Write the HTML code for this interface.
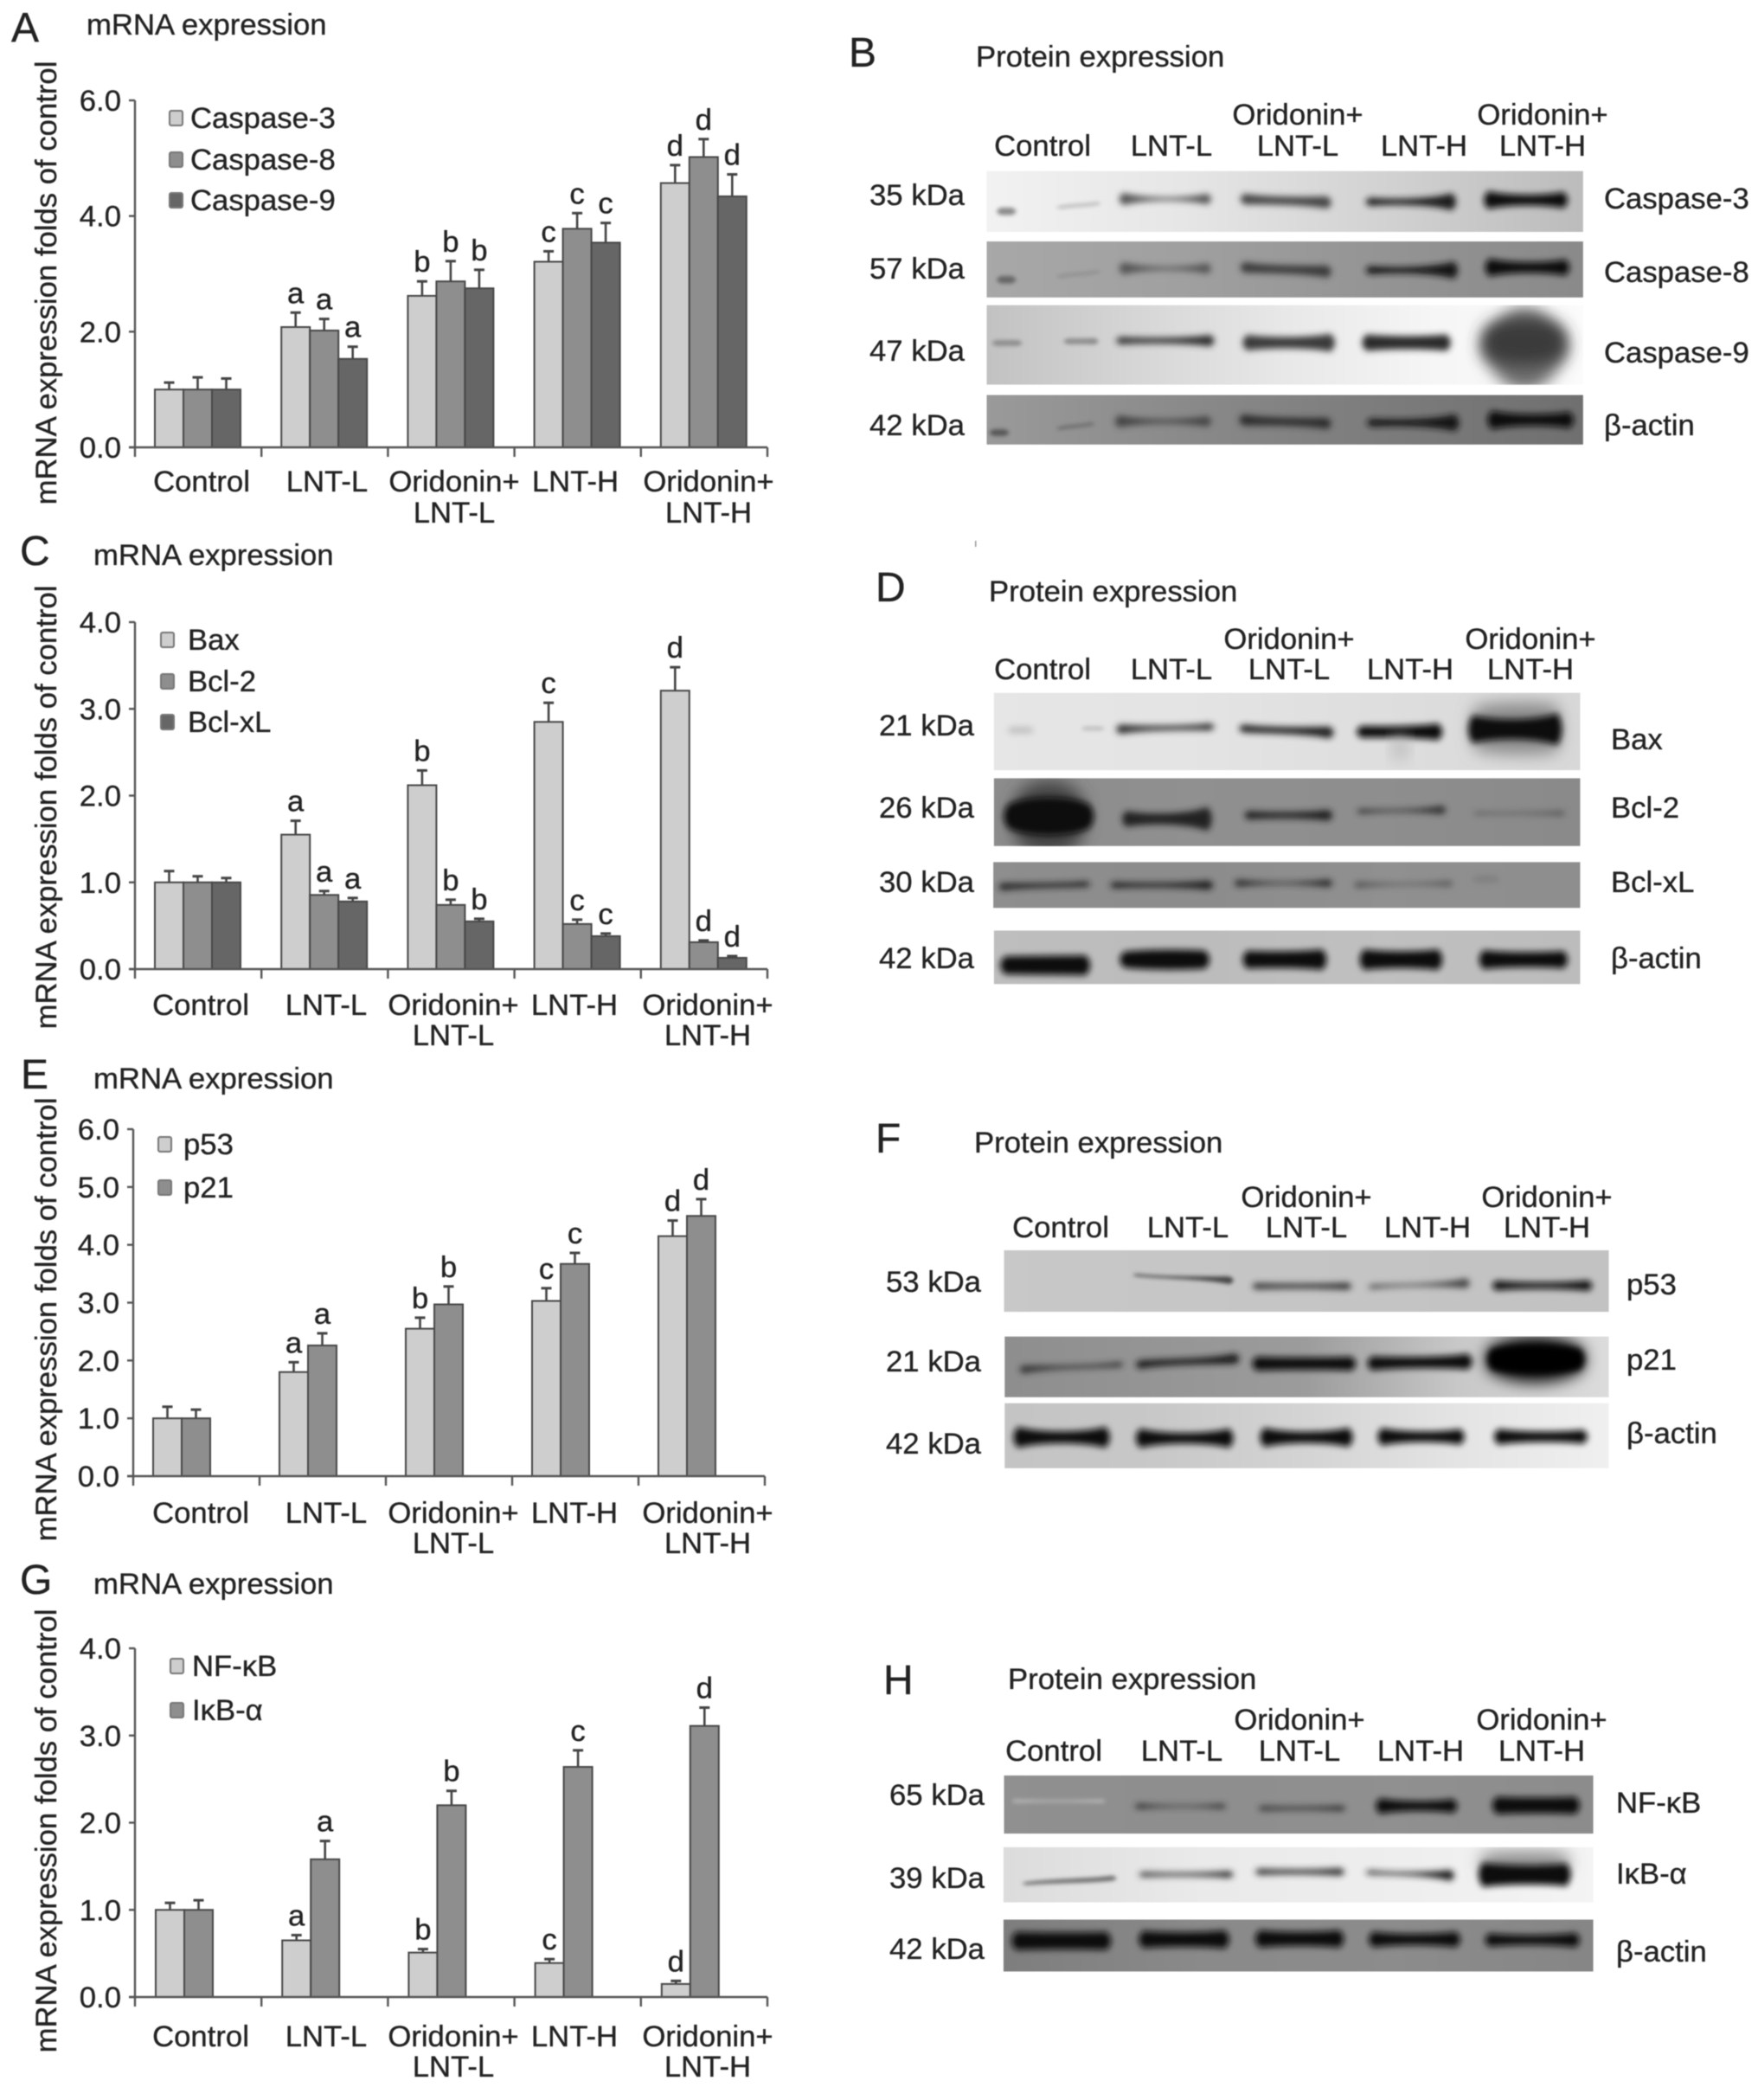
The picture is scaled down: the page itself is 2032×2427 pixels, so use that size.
<!DOCTYPE html>
<html lang="en">
<head>
<meta charset="utf-8">
<title>mRNA and protein expression</title>
<style>
html,body{margin:0;padding:0;background:#fff}
svg{display:block;filter:blur(.6px)}
text{font-family:"Liberation Sans",sans-serif;font-size:34.7px;fill:#222;stroke:#222;stroke-width:.35px}
.letter{font-size:48px}
</style>
</head>
<body>
<svg id="fig" xmlns="http://www.w3.org/2000/svg" width="2032" height="2427" viewBox="0 0 2032 2427">
<defs>
<filter id="b1" x="-30%" y="-400%" width="160%" height="900%"><feGaussianBlur stdDeviation="2.4"/></filter>
<filter id="b2" x="-30%" y="-400%" width="160%" height="900%"><feGaussianBlur stdDeviation="3.8"/></filter>
<filter id="b3" x="-40%" y="-100%" width="180%" height="300%"><feGaussianBlur stdDeviation="9"/></filter>
</defs>
<rect width="2032" height="2427" fill="#fff"/>
<g id="charts"></g>
<g id="blots"></g>
<g>
<text class="letter" x="981" y="77">B</text>
<text x="1128" y="77">Protein expression</text>
<g text-anchor="middle">
<text x="1205" y="180">Control</text>
<text x="1354" y="180">LNT-L</text>
<text x="1500" y="144">Oridonin+</text>
<text x="1500" y="180">LNT-L</text>
<text x="1646" y="180">LNT-H</text>
<text x="1783" y="144">Oridonin+</text>
<text x="1783" y="180">LNT-H</text>
</g>
<text x="1005" y="237">35 kDa</text>
<text x="1005" y="322">57 kDa</text>
<text x="1005" y="417">47 kDa</text>
<text x="1005" y="503">42 kDa</text>
<text x="1854" y="241">Caspase-3</text>
<text x="1854" y="326">Caspase-8</text>
<text x="1854" y="419">Caspase-9</text>
<text x="1854" y="503">β-actin</text>
</g>
<g>
<text class="letter" x="1012" y="695">D</text>
<text x="1143" y="695">Protein expression</text>
<g text-anchor="middle">
<text x="1205" y="785">Control</text>
<text x="1354" y="785">LNT-L</text>
<text x="1490" y="750">Oridonin+</text>
<text x="1490" y="785">LNT-L</text>
<text x="1630" y="785">LNT-H</text>
<text x="1769" y="750">Oridonin+</text>
<text x="1769" y="785">LNT-H</text>
</g>
<text x="1016" y="850">21 kDa</text>
<text x="1016" y="945">26 kDa</text>
<text x="1016" y="1031">30 kDa</text>
<text x="1016" y="1119">42 kDa</text>
<text x="1862" y="866">Bax</text>
<text x="1862" y="945">Bcl-2</text>
<text x="1862" y="1031">Bcl-xL</text>
<text x="1862" y="1119">β-actin</text>
</g>
<g>
<text class="letter" x="1012" y="1332">F</text>
<text x="1126" y="1332">Protein expression</text>
<g text-anchor="middle">
<text x="1226" y="1430">Control</text>
<text x="1373" y="1430">LNT-L</text>
<text x="1510" y="1395">Oridonin+</text>
<text x="1510" y="1430">LNT-L</text>
<text x="1650" y="1430">LNT-H</text>
<text x="1788" y="1395">Oridonin+</text>
<text x="1788" y="1430">LNT-H</text>
</g>
<text x="1024" y="1493">53 kDa</text>
<text x="1024" y="1585">21 kDa</text>
<text x="1024" y="1680">42 kDa</text>
<text x="1880" y="1496">p53</text>
<text x="1880" y="1583">p21</text>
<text x="1880" y="1668">β-actin</text>
</g>
<g>
<text class="letter" x="1021" y="1958">H</text>
<text x="1165" y="1952">Protein expression</text>
<g text-anchor="middle">
<text x="1218" y="2035">Control</text>
<text x="1366" y="2035">LNT-L</text>
<text x="1502" y="1999">Oridonin+</text>
<text x="1502" y="2035">LNT-L</text>
<text x="1642" y="2035">LNT-H</text>
<text x="1782" y="1999">Oridonin+</text>
<text x="1782" y="2035">LNT-H</text>
</g>
<text x="1028" y="2086">65 kDa</text>
<text x="1028" y="2182">39 kDa</text>
<text x="1028" y="2264">42 kDa</text>
<text x="1868" y="2095">NF-κB</text>
<text x="1868" y="2177">IκB-α</text>
<text x="1868" y="2267">β-actin</text>
</g>
</svg>
<script>
// ---------- chart data ----------
const categoryLabels = [["Control"], ["LNT-L"], ["Oridonin+", "LNT-L"], ["LNT-H"], ["Oridonin+", "LNT-H"]];
const significanceLetters = ["", "a", "b", "c", "d"];

const ticksA = ["0.0", "2.0", "4.0", "6.0"];
const namesA = ["Caspase-3", "Caspase-8", "Caspase-9"];
const caspase3Values = [1.0, 2.08, 2.62, 3.21, 4.57];
const caspase3Errors = [0.12, 0.25, 0.25, 0.18, 0.31];
const caspase8Values = [1.0, 2.02, 2.87, 3.78, 5.02];
const caspase8Errors = [0.21, 0.2, 0.35, 0.27, 0.31];
const caspase9Values = [1.0, 1.53, 2.75, 3.54, 4.34];
const caspase9Errors = [0.19, 0.21, 0.32, 0.34, 0.38];

const ticksC = ["0.0", "1.0", "2.0", "3.0", "4.0"];
const namesC = ["Bax", "Bcl-2", "Bcl-xL"];
const baxValues = [1.0, 1.55, 2.12, 2.85, 3.21];
const baxErrors = [0.13, 0.16, 0.17, 0.22, 0.27];
const bcl2Values = [1.0, 0.855, 0.74, 0.52, 0.31];
const bcl2Errors = [0.07, 0.045, 0.06, 0.05, 0.02];
const bclxlValues = [1.0, 0.78, 0.55, 0.38, 0.13];
const bclxlErrors = [0.05, 0.04, 0.03, 0.03, 0.02];

const ticksE = ["0.0", "1.0", "2.0", "3.0", "4.0", "5.0", "6.0"];
const namesE = ["p53", "p21"];
const p53Values = [1.0, 1.8, 2.55, 3.03, 4.15];
const p53Errors = [0.2, 0.17, 0.19, 0.22, 0.27];
const p21Values = [1.0, 2.26, 2.97, 3.67, 4.5];
const p21Errors = [0.15, 0.21, 0.31, 0.19, 0.29];

const ticksG = ["0.0", "1.0", "2.0", "3.0", "4.0"];
const namesG = ["NF-κB", "IκB-α"];
const nfkbValues = [1.0, 0.65, 0.51, 0.39, 0.15];
const nfkbErrors = [0.08, 0.06, 0.04, 0.045, 0.035];
const ikbValues = [1.0, 1.58, 2.2, 2.64, 3.11];
const ikbErrors = [0.11, 0.21, 0.165, 0.19, 0.21];

// ---------- helpers ----------
const NS = "http://www.w3.org/2000/svg";
function mk(tag, parent, attrs) {
  const el = document.createElementNS(NS, tag);
  for (const k in attrs) el.setAttribute(k, attrs[k]);
  parent.appendChild(el);
  return el;
}
const FILLS = ["#cecece", "#8e8e8e", "#666666"];
const EDGE = "#474747";

function drawChart(cfg) {
  const root = document.getElementById("charts");
  const g = mk("g", root, {});
  
  

  const yScale = v => cfg.y0 - (v - cfg.min) / (cfg.max - cfg.min) * (cfg.y0 - cfg.yTop);
  const band = (cfg.xEnd - cfg.x0) / categoryLabels.length;
  const xScale = (c, s) => cfg.x0 + c * band + cfg.barPad + s * cfg.barW;

  // header
  const letter = mk("text", g, {x: cfg.letterX, y: cfg.headY + (cfg.letterDy || 0), class: "letter"});
  letter.textContent = cfg.letter;
  
  
  const title = mk("text", g, {x: cfg.titleX, y: cfg.headY});
  title.textContent = "mRNA expression";
  
  

  // y-axis title
  const yt = mk("text", g, {x: 0, y: 0, "text-anchor": "middle", transform: "translate(65," + cfg.yLabelY + ") rotate(-90)"});
  yt.textContent = "mRNA expression folds of control";
  
  

  // bars, error bars, letters
  cfg.series.forEach((s, si) => {
    s.values.forEach((v, c) => {
      const x = xScale(c, si), yv = yScale(v), top = yScale(v + s.errors[c]), cx = x + cfg.barW / 2;
      const stem = mk("line", g, {x1: cx, x2: cx, y1: yv, y2: top, stroke: "#444", "stroke-width": 2.6});
      
      
      const cap = mk("line", g, {x1: cx - 6, x2: cx + 6, y1: top, y2: top, stroke: "#444", "stroke-width": 3});
      
      
      const r = mk("rect", g, {x: x, y: yv, width: cfg.barW, height: cfg.y0 - yv, fill: FILLS[si], stroke: EDGE, "stroke-width": 2});
      
      
      if (significanceLetters[c]) {
        const t = mk("text", g, {x: cx, y: top - 11, "text-anchor": "middle"});
        t.textContent = significanceLetters[c];
        
        
      }
    });
  });

  // axes
  const ya = mk("line", g, {x1: cfg.x0, x2: cfg.x0, y1: cfg.yTop, y2: cfg.y0 + 11, stroke: "#555", "stroke-width": 2.4});
  
  
  const xa = mk("line", g, {x1: cfg.x0 - 7, x2: cfg.xEnd, y1: cfg.y0, y2: cfg.y0, stroke: "#555", "stroke-width": 2.4});
  
  

  cfg.ticks.forEach(label => {
    const y = yScale(parseFloat(label));
    const tk = mk("line", g, {x1: cfg.x0 - 7, x2: cfg.x0, y1: y, y2: y, stroke: "#555", "stroke-width": 2.4});
    
    
    const tx = mk("text", g, {x: cfg.x0 - 16, y: y + 12, "text-anchor": "end"});
    tx.textContent = label;
    
    
  });

  categoryLabels.forEach((lines, c) => {
    const tickX = cfg.x0 + (c + 1) * band;
    const tk = mk("line", g, {x1: tickX, x2: tickX, y1: cfg.y0, y2: cfg.y0 + 11, stroke: "#555", "stroke-width": 2.4});
    
    
    const center = cfg.labelCenters[c];
    lines.forEach((line, i) => {
      const t = mk("text", g, {x: center, y: cfg.xLabelY + i * cfg.xLabelGap, "text-anchor": "middle"});
      t.textContent = line;
      
      
    });
  });

  // legend
  cfg.names.forEach((name, i) => {
    const y = cfg.legendY[i];
    const sw = mk("rect", g, {x: cfg.legendX, y: y - 8, width: 15, height: 17, rx: 2, fill: FILLS[i], stroke: "#777", "stroke-width": 2});
    
    
    const t = mk("text", g, {x: cfg.legendTextX, y: y + 12});
    t.textContent = name;
    
    
  });
}

drawChart({id: "caspase", letter: "A", letterX: 13, titleX: 100, headY: 40, letterDy: 8, x0: 156, xEnd: 887, y0: 517, yTop: 116, min: 0, max: 6,
  barPad: 23, barW: 33, ticks: ticksA, yLabelY: 327, names: namesA, legendX: 196, legendTextX: 220, legendY: [136, 184, 231],
  labelCenters: [233, 378, 525, 665, 819], xLabelY: 568, xLabelGap: 36,
  series: [{values: caspase3Values, errors: caspase3Errors}, {values: caspase8Values, errors: caspase8Errors}, {values: caspase9Values, errors: caspase9Errors}]});

drawChart({id: "apoptosis", letter: "C", letterX: 23, titleX: 108, headY: 653, x0: 156, xEnd: 887, y0: 1120, yTop: 719, min: 0, max: 4,
  barPad: 23, barW: 33, ticks: ticksC, yLabelY: 933, names: namesC, legendX: 186, legendTextX: 217, legendY: [739, 787, 834],
  labelCenters: [232, 377, 524, 664, 818], xLabelY: 1173, xLabelGap: 35,
  series: [{values: baxValues, errors: baxErrors}, {values: bcl2Values, errors: bcl2Errors}, {values: bclxlValues, errors: bclxlErrors}]});

drawChart({id: "p53", letter: "E", letterX: 24, titleX: 108, headY: 1258, x0: 154, xEnd: 884, y0: 1706, yTop: 1305, min: 0, max: 6,
  barPad: 23, barW: 33, ticks: ticksE, yLabelY: 1525, names: namesE, legendX: 183, legendTextX: 212, legendY: [1322, 1372],
  labelCenters: [232, 377, 524, 664, 818], xLabelY: 1760, xLabelGap: 35,
  series: [{values: p53Values, errors: p53Errors}, {values: p21Values, errors: p21Errors}]});

drawChart({id: "nfkb", letter: "G", letterX: 23, titleX: 108, headY: 1842, x0: 156, xEnd: 887, y0: 2308, yTop: 1905, min: 0, max: 4,
  barPad: 24, barW: 33, ticks: ticksG, yLabelY: 2116, names: namesG, legendX: 197, legendTextX: 222, legendY: [1925, 1976],
  labelCenters: [232, 377, 524, 664, 818], xLabelY: 2365, xLabelGap: 35,
  series: [{values: nfkbValues, errors: nfkbErrors}, {values: ikbValues, errors: ikbErrors}]});

// ---------- western blots (coordinates in a per-panel sketch space) ----------
let gradCounter = 0;
const BAND_SCALE = 1.2;
function blotPanel(name, ox, oy, kx, ky) {
  const panel = mk("g", document.getElementById("blots"), {});
  
  
  const defs = document.querySelector("#fig defs");
  return {
    row(rowName, x1, y1, x2, y2, stops) {
      const id = "grad" + (++gradCounter);
      const lg = mk("linearGradient", defs, {id: id, x1: 0, y1: 0, x2: 1, y2: 0});
      stops.forEach((c, i) => mk("stop", lg, {offset: i / Math.max(stops.length - 1, 1), "stop-color": c}));
      const X = ox + x1 / kx, Y = oy + y1 / ky, W = (x2 - x1) / kx, H = (y2 - y1) / ky;
      const cp = mk("clipPath", defs, {id: "clip" + id});
      mk("rect", cp, {x: X, y: Y, width: W, height: H});
      const g = mk("g", panel, {"clip-path": "url(#clip" + id + ")"});
      
      
      mk("rect", g, {x: X, y: Y, width: W, height: H, fill: "url(#" + id + ")"});
      return {
        band(x1, x2, y, tL, tM, tR, color, blur, yR) {
          const XL = ox + x1 / kx, XR = ox + x2 / kx, w = XR - XL;
          const YL = oy + y / ky, YRR = oy + (yR === undefined ? y : yR) / ky, YM = (YL + YRR) / 2;
          const hl = BAND_SCALE * tL / ky / 2, hm = BAND_SCALE * tM / ky / 2, hr = BAND_SCALE * tR / ky / 2;
          const topC = (8 * (YM - hm) - (YL - hl) - (YRR - hr)) / 6;
          const botC = (8 * (YM + hm) - (YL + hl) - (YRR + hr)) / 6;
          const d = "M" + XL + " " + (YL - hl) +
            "C" + (XL + w * 0.25) + " " + topC + " " + (XR - w * 0.25) + " " + topC + " " + XR + " " + (YRR - hr) +
            "Q" + (XR + 10) + " " + YRR + " " + XR + " " + (YRR + hr) +
            "C" + (XR - w * 0.25) + " " + botC + " " + (XL + w * 0.25) + " " + botC + " " + XL + " " + (YL + hl) +
            "Q" + (XL - 10) + " " + YL + " " + XL + " " + (YL - hl) + "Z";
          const p = mk("path", g, {d: d, fill: color, filter: "url(#" + (blur || "b2") + ")"});
          
          
          return p;
        }
      };
    }
  };
}

// Panel B
const pB = blotPanel("blot-b", 950, 0, 1.449, 2.53);
let r = pB.row("blot-caspase-3", 276, 500, 1275, 678, ["#f2f2f2", "#e6e6e6", "#d2d2d2", "#bcbcbc"]);
r.band(300, 318, 618, 18, 18, 18, "#8a8a8a", "b1");
r.band(400, 460, 606, 8, 8, 8, "#bbb", "b1", 595);
r.band(505, 645, 582, 30, 8, 26, "#555");
r.band(708, 846, 582, 26, 20, 30, "#444", "b2", 592);
r.band(918, 1055, 590, 20, 16, 42, "#1c1c1c");
r.band(1116, 1242, 585, 44, 26, 40, "#0c0c0c");
r = pB.row("blot-caspase-8", 276, 706, 1275, 870, ["#a8a8a8", "#a0a0a0", "#949494", "#8a8a8a"]);
r.band(300, 318, 818, 18, 18, 18, "#666", "b1");
r.band(400, 460, 808, 8, 8, 8, "#8f8f8f", "b1", 795);
r.band(505, 645, 785, 30, 8, 26, "#555");
r.band(708, 846, 782, 26, 20, 30, "#3a3a3a", "b2", 794);
r.band(918, 1058, 790, 20, 16, 42, "#181818");
r.band(1118, 1245, 782, 44, 26, 40, "#0a0a0a");
r = pB.row("blot-caspase-9", 276, 892, 1275, 1125, ["#c2c2c2", "#d6d6d6", "#e8e8e8", "#f6f6f6", "#fbfbfb"]);
r.band(292, 328, 1003, 14, 14, 14, "#8c8c8c", "b1");
r.band(412, 456, 998, 14, 14, 16, "#8c8c8c", "b1");
r.band(500, 650, 996, 18, 14, 28, "#2e2e2e");
r.band(712, 852, 1002, 38, 28, 44, "#3a3a3a");
r.band(912, 1046, 1002, 40, 32, 40, "#2c2c2c");
r.band(1115, 1240, 1020, 60, 200, 60, "#6a6a6a", "b3");
r.band(1112, 1240, 1000, 70, 110, 70, "#3a3a3a", "b3");
r = pB.row("blot-beta-actin", 276, 1155, 1275, 1300, ["#9a9a9a", "#8a8a8a", "#7c7c7c", "#707070"]);
r.band(288, 306, 1265, 16, 16, 16, "#555", "b1");
r.band(400, 450, 1252, 8, 8, 8, "#6a6a6a", "b1", 1240);
r.band(498, 645, 1232, 30, 10, 26, "#444");
r.band(706, 846, 1228, 28, 20, 28, "#2e2e2e", "b2", 1238);
r.band(920, 1060, 1236, 20, 18, 42, "#181818");
r.band(1122, 1252, 1228, 46, 28, 40, "#0a0a0a");
const tinyMark = mk("rect", document.getElementById("blots"), {x: 1127, y: 625, width: 1.5, height: 7, fill: "#999"});



// Panel D
const pD = blotPanel("blot-d", 950, 620, 1.449, 2.613);
r = pD.row("blot-bax", 288, 472, 1270, 706, ["#e6e6e6", "#e4e4e4", "#dedede", "#d8d8d8"]);
r.band(318, 348, 585, 16, 16, 16, "#bdbdbd");
r.band(442, 466, 580, 10, 10, 10, "#bdbdbd", "b1");
r.band(500, 650, 582, 24, 12, 18, "#333", "b2", 575);
r.band(706, 850, 580, 20, 18, 30, "#222", "b2", 592);
r.band(903, 1032, 590, 30, 30, 42, "#111");
r.band(962, 975, 640, 60, 60, 60, "#bbb", "b3");
r.band(1095, 1230, 580, 110, 130, 120, "#8a8a8a", "b3");
r.band(1090, 1232, 582, 70, 50, 80, "#0a0a0a");
r = pD.row("blot-bcl-2", 288, 730, 1270, 935, ["#8c8c8c", "#909090", "#8e8e8e", "#8a8a8a"]);
r.band(325, 435, 850, 110, 190, 110, "#444", "b3");
r.band(312, 448, 845, 60, 95, 60, "#0c0c0c", "b2");
r.band(510, 646, 853, 40, 28, 60, "#222");
r.band(715, 848, 842, 22, 16, 28, "#222");
r.band(903, 1038, 830, 12, 7, 22, "#333", "b2", 826);
r.band(1098, 1238, 836, 8, 6, 14, "#5a5a5a");
r = pD.row("blot-bcl-xl", 287, 983, 1270, 1122, ["#8e8e8e", "#8c8c8c", "#909090", "#8e8e8e"]);
r.band(303, 442, 1058, 18, 12, 14, "#222", "b2", 1050);
r.band(490, 648, 1053, 16, 12, 24, "#222");
r.band(698, 848, 1047, 18, 6, 20, "#2a2a2a");
r.band(898, 1050, 1052, 18, 6, 15, "#5a5a5a", "b2", 1048);
r.band(1097, 1128, 1035, 14, 14, 14, "#7c7c7c");
r = pD.row("blot-beta-actin", 288, 1190, 1270, 1352, ["#bebebe", "#bcbcbc", "#c0c0c0", "#bcbcbc"]);
r.band(306, 442, 1295, 45, 48, 50, "#0a0a0a");
r.band(506, 642, 1278, 40, 50, 45, "#111");
r.band(712, 838, 1278, 45, 42, 52, "#0e0e0e");
r.band(908, 1032, 1278, 52, 42, 52, "#111");
r.band(1108, 1242, 1278, 48, 38, 44, "#111");

// Panel F
const pF = blotPanel("blot-f", 950, 1277, 1.449, 2.96);
r = pF.row("blot-p53", 305, 497, 1318, 708, ["#c8c8c8", "#c6c6c6", "#c4c4c4", "#c2c2c2"]);
r.band(528, 682, 582, 6, 8, 22, "#444", "b1", 600);
r.band(728, 880, 620, 18, 14, 20, "#333");
r.band(922, 1078, 622, 12, 8, 28, "#444", "b2", 610);
r.band(1130, 1283, 618, 28, 18, 30, "#111");
r = pF.row("blot-p21", 306, 792, 1318, 1000, ["#8e8e8e", "#959595", "#9c9c9c", "#c8c8c8", "#dcdcdc"]);
r.band(338, 498, 905, 22, 10, 14, "#333", "b2", 888);
r.band(533, 692, 888, 24, 18, 30, "#1a1a1a", "b2", 868);
r.band(728, 887, 885, 40, 35, 40, "#111");
r.band(921, 1082, 884, 40, 32, 45, "#0a0a0a", "b2", 878);
r.band(1120, 1270, 870, 70, 130, 70, "#000", "b3");
r.band(1122, 1270, 870, 60, 75, 60, "#000");
r = pF.row("blot-beta-actin", 306, 1020, 1318, 1243, ["#c4c4c4", "#c8c8c8", "#d4d4d4", "#e4e4e4", "#f0f0f0"]);
r.band(328, 475, 1137, 60, 34, 60, "#111");
r.band(533, 682, 1140, 55, 30, 55, "#111");
r.band(741, 882, 1137, 55, 32, 55, "#111");
r.band(938, 1069, 1135, 50, 30, 45, "#111");
r.band(1133, 1275, 1135, 45, 30, 40, "#111");

// Panel H
const pH = blotPanel("blot-h", 950, 1898, 1.449, 2.97);
r = pH.row("blot-nf-kb", 305, 457, 1292, 657, ["#909090", "#8e8e8e", "#909090", "#8c8c8c"]);
r.band(325, 468, 545, 10, 6, 10, "#b8b8b8", "b1");
r.band(531, 670, 563, 16, 6, 14, "#333");
r.band(738, 870, 570, 14, 10, 16, "#333");
r.band(935, 1057, 562, 45, 28, 40, "#0a0a0a");
r.band(1130, 1262, 560, 50, 45, 50, "#0a0a0a");
r = pH.row("blot-ikb-a", 304, 703, 1292, 893, ["#dcdcdc", "#eaeaea", "#eeeeee", "#f4f4f4"]);
r.band(343, 486, 828, 8, 12, 14, "#666", "b1", 810);
r.band(538, 682, 797, 14, 10, 20, "#333");
r.band(733, 868, 788, 18, 14, 22, "#333");
r.band(918, 1052, 790, 12, 10, 32, "#222", "b2", 800);
r.band(1110, 1245, 755, 50, 60, 50, "#888", "b3");
r.band(1107, 1247, 798, 70, 55, 65, "#0a0a0a");
r = pH.row("blot-beta-actin", 304, 952, 1292, 1130, ["#7e7e7e", "#8a8a8a", "#8c8c8c", "#868686"]);
r.band(325, 477, 1025, 52, 48, 52, "#0a0a0a");
r.band(538, 675, 1020, 50, 42, 52, "#0a0a0a");
r.band(733, 867, 1018, 50, 40, 50, "#0e0e0e");
r.band(923, 1062, 1020, 45, 32, 45, "#0e0e0e");
r.band(1118, 1262, 1022, 38, 28, 42, "#111");
</script>
</body>
</html>
